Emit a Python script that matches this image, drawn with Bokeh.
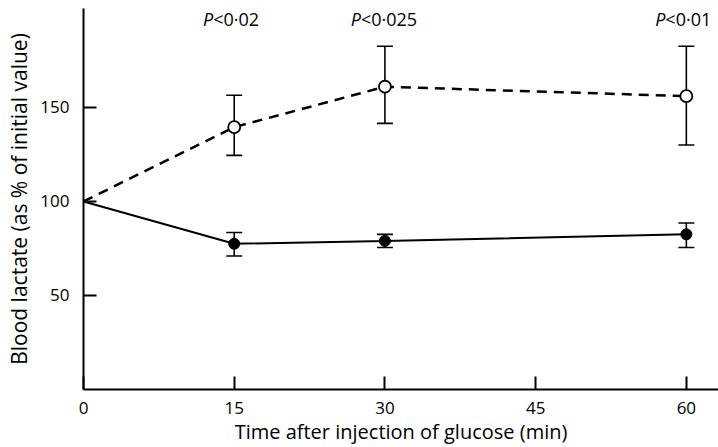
from bokeh.plotting import figure
from bokeh.models import ColumnDataSource, Whisker, TeeHead, FixedTicker, Range1d
from bokeh.core.properties import value
from bokeh.embed import file_html
from bokeh.resources import INLINE

# Data
time_min = [0, 15, 30, 60]
open_mean = [100, 139.5, 161, 156]
open_upper = [None, 156.5, 182.5, 182.5]
open_lower = [None, 124.5, 141.5, 130]
filled_mean = [100, 77.5, 79, 82.5]
filled_upper = [None, 83.5, 82.5, 88.5]
filled_lower = [None, 71, 75.5, 75.5]
x_ticks = [0, 15, 30, 45, 60]
y_ticks = [50, 100, 150]
p_x = [15, 30, 60]
p_y = [197, 197, 197]
p_vals = ["<0·02", "<0·025", "<0·01"]
p_offsets = [-21, -24, -21]

FONT = "Open Sans"
X0, X1, Y0, Y1 = 0, 63.2, 0, 202.6

p = figure(width=718, height=447, output_backend="svg", toolbar_location=None,
           x_range=Range1d(X0, X1), y_range=Range1d(Y0, Y1),
           min_border_left=83, min_border_right=0, min_border_top=8, min_border_bottom=58)
p.outline_line_color = None
p.grid.visible = False
p.background_fill_color = "white"

for ax, ticks in ((p.xaxis[0], x_ticks), (p.yaxis[0], y_ticks)):
    ax.ticker = FixedTicker(ticks=ticks)
    ax.major_tick_in = 13
    ax.major_tick_out = 0
    ax.minor_tick_line_color = None
    ax.axis_line_width = 2
    ax.axis_line_color = "black"
    ax.major_tick_line_color = "black"
    ax.major_tick_line_width = 2
    ax.major_label_text_font = FONT
    ax.major_label_text_font_size = "17px"
    ax.major_label_text_color = "black"
    ax.axis_label_text_font = FONT
    ax.axis_label_text_font_style = "normal"
    ax.axis_label_text_color = "black"

p.xaxis.axis_label = "Time after injection of glucose (min)"
p.yaxis.axis_label = "Blood lactate (as % of initial value)"
p.xaxis.axis_label_text_font_size = "20px"
p.yaxis.axis_label_text_font_size = "21px"
p.xaxis.major_label_standoff = 12
p.xaxis.axis_label_standoff = 1
p.yaxis.major_label_standoff = 14
p.yaxis.axis_label_standoff = 4

nan = float("nan")
src_open = ColumnDataSource(dict(x=time_min, y=open_mean,
                                 upper=[nan if u is None else u for u in open_upper],
                                 lower=[nan if l is None else l for l in open_lower]))
src_fill = ColumnDataSource(dict(x=time_min, y=filled_mean,
                                 upper=[nan if u is None else u for u in filled_upper],
                                 lower=[nan if l is None else l for l in filled_lower]))

p.line("x", "y", source=src_open, line_color="black", line_width=2.5, line_dash="10 7")
p.line("x", "y", source=src_fill, line_color="black", line_width=2)

for src in (src_open, src_fill):
    w = Whisker(base="x", upper="upper", lower="lower", source=src,
                line_color="black", line_width=1.6,
                upper_head=TeeHead(size=16, line_width=1.6, line_color="black"),
                lower_head=TeeHead(size=16, line_width=1.6, line_color="black"))
    p.add_layout(w)

p.scatter("x", "y", source=ColumnDataSource(dict(x=time_min[1:], y=open_mean[1:])),
          size=12, fill_color="white", line_color="black", line_width=1.8)
p.scatter("x", "y", source=ColumnDataSource(dict(x=time_min[1:], y=filled_mean[1:])),
          size=11, fill_color="black", line_color="black")

lab = ColumnDataSource(dict(x=p_x, y=p_y, t=p_vals, off=p_offsets, P=["P"] * len(p_x)))
p.text("x", "y", text="P", source=lab, x_offset="off", text_align="right", text_baseline="middle",
       text_font=value(FONT), text_font_style="italic", text_font_size="18px", text_color="black")
p.text("x", "y", text="t", source=lab, x_offset="off", text_align="left", text_baseline="middle",
       text_font=value(FONT), text_font_size="18px", text_color="black")

open("out.html", "w").write(file_html(p, INLINE))
